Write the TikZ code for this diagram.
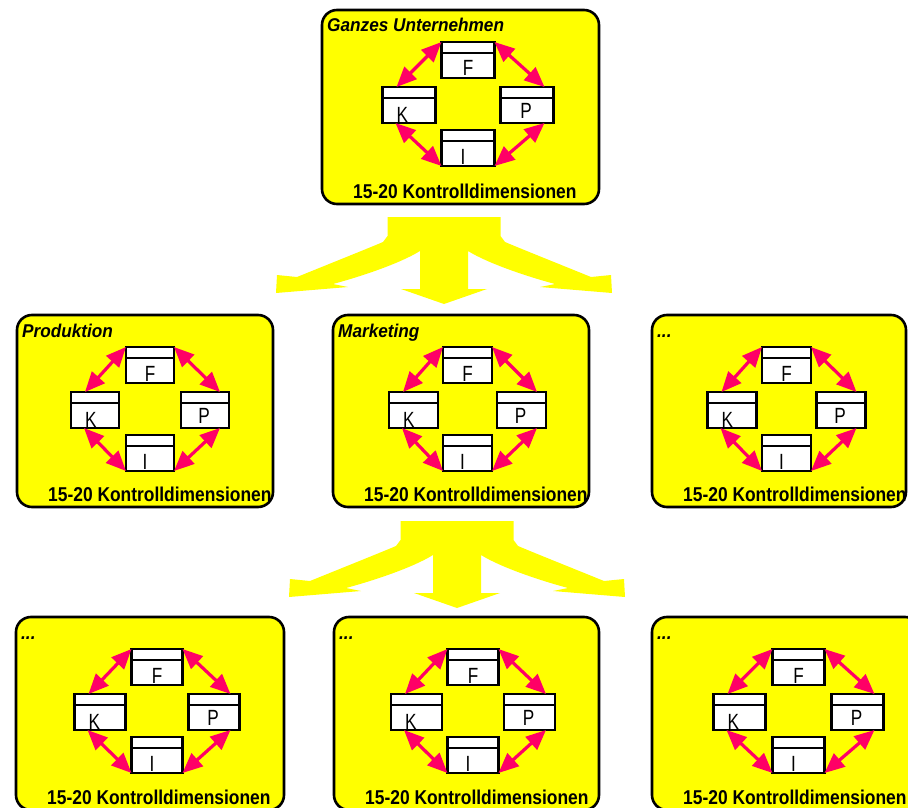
\documentclass[tikz,border=0pt]{standalone}
\usepackage{fontspec}
\setmainfont{Liberation Sans}
\newfontfamily\labfont[FakeStretch=0.87]{Liberation Sans}
\newfontfamily\headfont[FakeStretch=0.93]{Liberation Sans}
\newfontfamily\boxfont[FakeStretch=0.78]{Liberation Sans}
\usetikzlibrary{arrows.meta,fit}

\definecolor{panelyellow}{RGB}{255,255,0}
\definecolor{linkpink}{RGB}{255,0,102}

\tikzset{
  panelbox/.style={draw=black, fill=panelyellow, line width=2.6pt,
    rounded corners=15pt, inner sep=0pt, outer sep=0pt},
  sbox/.style={draw=black, fill=white, line width=2.2pt, rectangle,
    minimum height=36pt, inner sep=0pt, outer sep=0pt},
  hdr/.style={draw=black, line width=2pt},
  lettr/.style={inner sep=0pt, font=\boxfont\fontsize{22}{24}\selectfont},
  paneltitle/.style={inner sep=0pt, anchor=base west,
    font=\headfont\bfseries\itshape\fontsize{18.5}{22}\selectfont},
  panelfoot/.style={inner sep=0pt, anchor=base west,
    font=\labfont\bfseries\fontsize{20}{24}\selectfont},
  linkarrow/.style={draw=linkpink, line width=3.2pt,
    {Triangle[length=20pt,width=17pt]}-{Triangle[length=20pt,width=17pt]}},
  flowarrow/.style={fill=panelyellow, draw=none}
}

% One unit: #1 prefix, #2 left, #3 top, #4 right, #5 bottom,
% #6 title, #7 centre x of the four boxes, #8 horizontal offset of K/P, #9 box width
\newcommand\unitpanel[9]{%
  \node[panelbox, fit={(#2,#3) (#4,#5)}] (#1box) {};
  \node[sbox, minimum width=#9pt, anchor=north] (#1F) at (#7,#3+32) {};
  \node[sbox, minimum width=#9pt, anchor=north] (#1K) at (#7-#8,#3+77) {};
  \node[sbox, minimum width=#9pt, anchor=north] (#1P) at (#7+#8,#3+77) {};
  \node[sbox, minimum width=#9pt, anchor=north] (#1I) at (#7,#3+120) {};
  \foreach \b in {F,K,P,I}{
    \draw[hdr] ([yshift=-11pt]#1\b.north west) -- ([yshift=-11pt]#1\b.north east);
  }
  \node[lettr, anchor=base] (#1f) at ([yshift=2pt]#1F.south) {F};
  \node[lettr, anchor=base west] (#1k) at ([xshift=14pt,yshift=0.5pt]#1K.south west) {K};
  \node[lettr, anchor=base] (#1p) at ([xshift=-1pt,yshift=4.5pt]#1P.south) {P};
  \node[lettr, anchor=base] (#1i) at ([xshift=-5pt,yshift=2pt]#1I.south) {I};
  \draw[linkarrow] (#1F.north west) -- ([xshift=14pt]#1K.north west);
  \draw[linkarrow] (#1F.north east) -- ([xshift=-9pt]#1P.north east);
  \draw[linkarrow] ([xshift=13pt]#1K.south west) -- (#1I.south west);
  \draw[linkarrow] ([xshift=-9pt]#1P.south east) -- (#1I.south east);
  \node[paneltitle] (#1title) at (#2+5,#3+22) {#6};
  \node[panelfoot] (#1foot) at (#2+31,#5-6) {15-20 Kontrolldimensionen};
}

% Branching arrow: trunk splitting into left, centre and right branches
\newcommand\branchflow[2]{%
  \begin{scope}[shift={(#1,#2)}]
    \fill[flowarrow] (-56.5,0) -- (-56.5,19) -- (-61,25)
      .. controls (-75,31) and (-120,49) .. (-147,60)
      -- (-167,58) -- (-168,76) -- (-96,70) -- (-111,67)
      .. controls (-85,60) and (-45,47) .. (-24,34)
      -- (-24,72) -- (-43,72) -- (0,87) -- (43,72) -- (24,72) -- (24,34)
      .. controls (45,47) and (85,60) .. (111,67)
      -- (96,70) -- (168,76) -- (167,58) -- (147,60)
      .. controls (120,49) and (75,31) .. (61,25)
      -- (56.5,19) -- (56.5,0) -- cycle;
  \end{scope}
}

\begin{document}
\begin{tikzpicture}[x=1pt,y=-1pt]
  \useasboundingbox (0,0) rectangle (908,808);
  \clip (0,0) rectangle (908,808);

  % top level
  \unitpanel{t}{322}{10}{599}{204}{Ganzes Unternehmen}{468}{59}{53}

  \branchflow{444}{217}

  % second level
  \unitpanel{a}{17}{315}{273}{507}{Produktion}{150}{55}{48}
  \unitpanel{b}{333}{315}{589}{507}{Marketing}{467.5}{54}{49}
  \unitpanel{c}{652}{315}{906}{507}{...}{786.5}{54.5}{49}

  \branchflow{457}{521}

  % third level
  \unitpanel{d}{16}{617}{284}{810}{...}{157}{57}{51}
  \unitpanel{e}{334}{617}{599}{810}{...}{473}{56.5}{51}
  \unitpanel{f}{652}{617}{920}{810}{...}{798.5}{59}{52}
\end{tikzpicture}
\end{document}
